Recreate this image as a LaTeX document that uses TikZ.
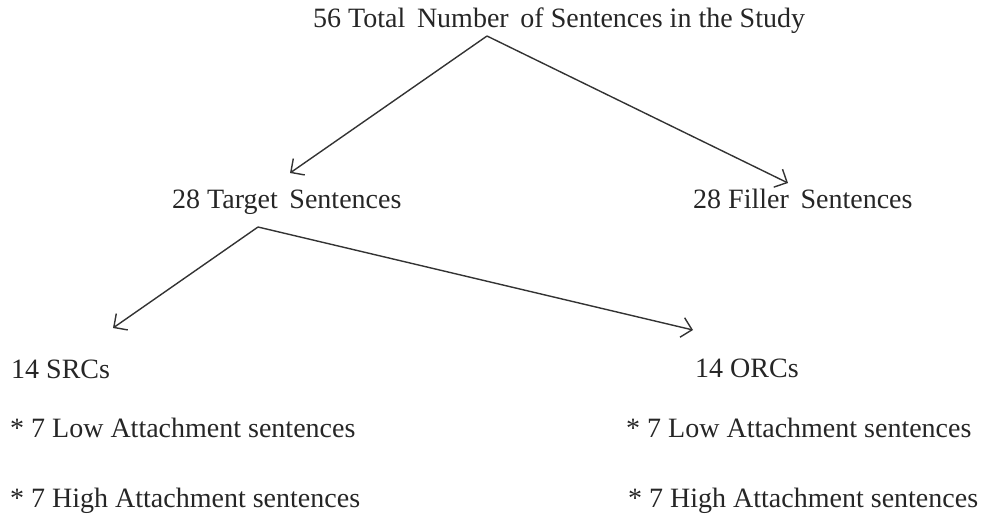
\documentclass[tikz,border=0pt]{standalone}
\usepackage{fontspec}
\setmainfont{Liberation Serif}
\usetikzlibrary{arrows.meta}
\begin{document}
\begin{tikzpicture}[x=1pt,y=-1pt,
  lbl/.style={anchor=base west,inner sep=0pt,font=\fontsize{28}{33}\selectfont,text=black!85},
  arr/.style={draw=black!80,line width=1.4pt,-{Straight Barb[length=10pt,width=20pt,line width=1.4pt]}}]
\useasboundingbox (0,0) rectangle (984,515);
\node[lbl] (title) at (313,27) {56 Total\, Number\, of Sentences in the Study};
\node[lbl] (target) at (172,208) {28 Target\, Sentences};
\node[lbl] (filler) at (693,208) {28 Filler\, Sentences};
\node[lbl] (src) at (11,378) {14 SRCs};
\node[lbl] (orc) at (695,377) {14 ORCs};
\node[lbl] (srclow) at (10,437) {* 7 Low Attachment sentences};
\node[lbl] (srchigh) at (10,507) {* 7 High Attachment sentences};
\node[lbl] (orclow) at (626,437) {* 7 Low Attachment sentences};
\node[lbl] (orchigh) at (628,507) {* 7 High Attachment sentences};
\coordinate (top) at (487,36);
\coordinate (mid) at (258,227);
\coordinate (ttip) at (290,173);
\coordinate (ftip) at (788,183);
\coordinate (stip) at (113,328);
\coordinate (otip) at (693,330);
\draw[arr] (top) -- (ttip);
\draw[arr] (top) -- (ftip);
\draw[arr] (mid) -- (stip);
\draw[arr] (mid) -- (otip);
\end{tikzpicture}
\end{document}
